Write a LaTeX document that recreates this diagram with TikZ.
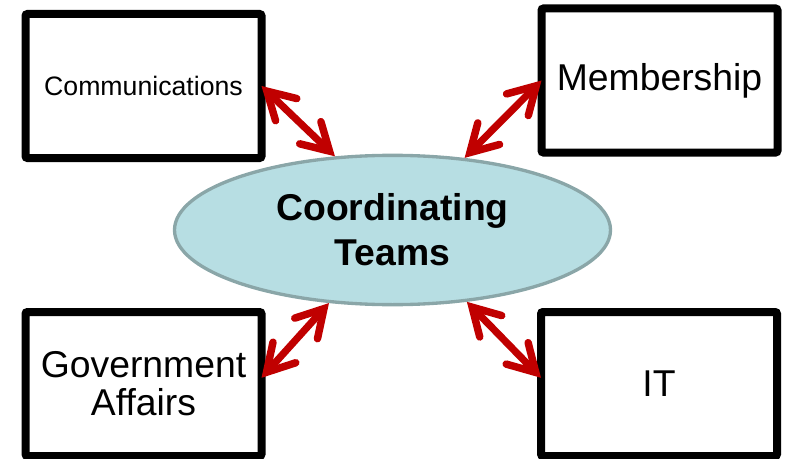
\documentclass[tikz,border=0pt]{standalone}
\usepackage{fontspec}
\setmainfont{Liberation Sans}
\usetikzlibrary{shapes.geometric, arrows.meta, shadows}
\definecolor{arrowred}{RGB}{192, 0, 0}
\definecolor{hubfill}{RGB}{183, 222, 227}
\definecolor{hubdraw}{RGB}{138, 166, 168}

\begin{document}
\begin{tikzpicture}[x=0.75pt, y=0.75pt,
    teambox/.style={rectangle, draw=black, fill=white, line width=6pt, rounded corners=1.5pt,
        minimum width=177pt, minimum height=108pt, inner sep=0pt, outer sep=0pt, align=center,
        font={\fontsize{28}{28.5}\selectfont},
        drop shadow={shadow xshift=1pt, shadow yshift=-1.5pt, opacity=0.2}},
    hubnode/.style={ellipse, draw=hubdraw, fill=hubfill, line width=2.5pt,
        minimum width=327pt, minimum height=112pt, inner sep=0pt, align=center,
        font={\fontsize{28}{33.75}\selectfont\bfseries}},
    barb/.tip={Straight Barb[length=20pt, width=23pt, line width=5.6pt, line cap=round, line join=miter]},
    tie/.style={draw=arrowred, line width=5.4pt, barb-barb}]
    \useasboundingbox (0,0) rectangle (785,458);

    % Center
    \node[hubnode] (hub) at (392.5,228) {Coordinating\\Teams};

    % Teams
    \node[teambox, font={\fontsize{20}{24}\selectfont}] (comm) at (143.5,372) {Communications};
    \node[teambox] (memb) at (659.5,377.5) {Membership};
    \node[teambox] (gov) at (143.5,74) {Government\\Affairs};
    \node[teambox] (it) at (659,74) {IT};

    % Links
    \draw[tie] (comm.east) -- (hub.128);
    \draw[tie] (memb.west) -- (hub.45);
    \draw[tie] (gov.3) -- (hub.229);
    \draw[tie] (it.177) -- (hub.316);
\end{tikzpicture}
\end{document}
